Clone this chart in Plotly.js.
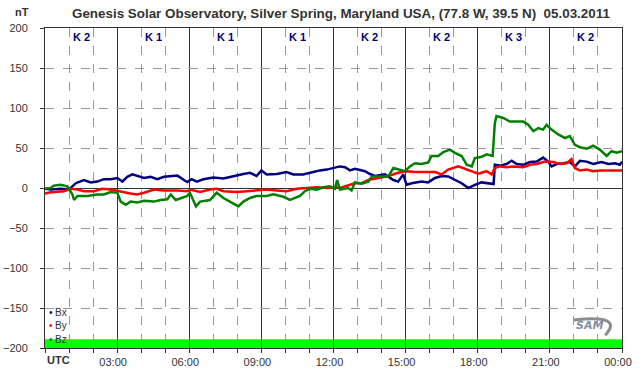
<!DOCTYPE html>
<html><head><meta charset="utf-8">
<script src="https://cdn.plot.ly/plotly-3.0.1.min.js"></script>
<style>html,body{margin:0;padding:0;background:#fff;}#chart{width:642px;height:376px;}</style>
</head><body><div id="chart"></div>
<script>
// Time in hours UTC
const bxTime = [0,0.24,0.65,0.93,1.07,1.14,1.28,1.62,1.90,2.18,2.45,2.73,3.01,3.22,3.42,3.63,3.84,4.12,4.39,4.67,4.95,5.23,5.51,5.78,5.92,6.1,6.31,6.59,7.0,7.42,7.83,8.25,8.53,8.80,9.0,9.22,9.64,10.05,10.33,10.74,11.16,11.44,11.72,11.99,12.27,12.48,12.68,12.89,13.31,13.52,13.72,14.14,14.49,14.69,14.90,15.04,15.25,15.67,15.94,16.22,16.5,16.77,17.05,17.33,17.61,17.88,18.16,18.37,18.58,18.66,18.71,18.92,19.2,19.41,19.62,19.89,20.17,20.45,20.72,20.93,21.07,21.28,21.56,21.83,22.04,22.25,22.53,22.8,23.15,23.43,23.71,23.91,24];
const bxValues = [-1,-2,-1,-2,0,2,6,10,7,8,11,11,12.5,8,14,17,15,12.5,14,11,14,15,15.5,10,7.5,11,8,11,13,12,15,17.5,19,15,22,17,17.5,20,17,17,20,22,23,25,27,26,22,24,21,17.5,15,17,10,8,17,4,6,8,7,12.5,15,14.5,10,6,0,4,7,6,5,5,29,28,30,34,30,29,32.5,33,38,33,27,30,31,32.5,27,34,33,30,32.5,30,31,29,33];

const byTime = [0,0.24,0.79,1.07,1.35,1.62,2.04,2.38,2.73,3.01,3.56,3.84,4.12,4.53,4.95,5.51,5.92,6.03,6.45,6.86,7.14,7.42,7.97,8.39,8.80,9.22,9.64,10.05,10.47,10.88,11.3,11.72,12.13,12.27,12.48,12.89,13.17,13.45,13.86,14.28,14.69,15.04,15.39,15.8,16.22,16.5,16.77,17.19,17.47,17.75,18.02,18.37,18.58,18.71,18.92,19.2,19.48,19.89,20.17,20.45,20.79,21.14,21.42,21.7,21.9,22.04,22.25,22.53,22.8,23.08,23.5,24];
const byValues = [-7,-5.4,-4,-1,-2,-4,-4,-1,-2,-4,-7,-8,-6,-2,-3,-3,-4,-2,-5,-2,-1,-4,-5,-4,-3,-2,-3,-4,-1,0,1,0,1,0,2,6,6,10,12.5,15,19,21,20,20,20,17,23,27,24,21,18,21,17,25,27,26,27,26,29,30,33,32.5,30,31,36,25,22,23,21,22,22,22];

const bzTime = [0,0.24,0.37,0.65,0.93,1.14,1.21,1.35,1.76,2.18,2.45,2.73,3.01,3.15,3.36,3.56,3.84,4.12,4.53,4.81,5.09,5.23,5.44,5.64,5.92,6.03,6.17,6.28,6.45,6.86,7.14,7.42,7.69,8.04,8.25,8.53,8.80,9.22,9.5,9.91,10.19,10.61,10.81,11.02,11.3,11.58,11.85,12.06,12.15,12.27,12.61,12.75,12.89,13.17,13.45,13.59,14.0,14.28,14.49,14.76,14.97,15.18,15.39,15.67,15.94,16.08,16.36,16.57,16.84,17.05,17.33,17.54,17.75,17.88,18.16,18.37,18.62,18.71,18.78,19.06,19.34,19.62,19.89,20.1,20.31,20.52,20.72,20.86,21.07,21.35,21.63,21.83,22.04,22.25,22.53,22.8,23.08,23.36,23.57,23.78,24];
const bzValues = [-1,0,3,4,2,-8,-15,-10,-10,-8,-8,-5,-6,-17,-21,-17,-18,-16,-17,-15,-14,-8,-15,-12.5,-10,-6,-15,-23,-17,-15,-6,-12.5,-17,-23,-17,-12.5,-10,-10,-8,-11,-15,-10,-4,-1,-2,1,2,-1,10,-2,0,-3,7,5.5,8,14.5,14.5,14.5,25,23,21,27,31,30,32,40,40,45,48,44,40,29,27,37.5,39,42,40,81,90,87.5,83,83,83,79,71,75,73,79,73,67,62.5,65,54,51,49,53,48,40,46,44,46];

const tickHours = [0,3,6,9,12,15,18,21,24];
const tickLabels = ['','03:00','06:00','09:00','12:00','15:00','18:00','21:00','00:00'];
const kHours = [1.5,4.5,7.5,10.5,13.5,16.5,19.5,22.5];
const kLabels = ['K 2','K 1','K 1','K 1','K 2','K 2','K 3','K 2'];
const seriesNames = ['Bx','By','Bz'];
const seriesColors = ['#000080','#ff0000','#008000'];

const FONT = 'Arial, "Liberation Sans", sans-serif';
const traces = [
  {x: bxTime, y: bxValues},
  {x: byTime, y: byValues},
  {x: bzTime, y: bzValues}
].map((d,i)=>({x:d.x,y:d.y,type:'scatter',mode:'lines',name:seriesNames[i],
  line:{color:seriesColors[i],width:2.5},showlegend:false,hoverinfo:'skip'}));

const annotations = [];
kHours.forEach((h,i)=>annotations.push({x:h,y:189,xref:'x',yref:'y',text:'<b>'+kLabels[i]+'</b>',
  showarrow:false,font:{family:FONT,size:11,color:'#000080'},xanchor:'center',yanchor:'middle'}));
const legY = [-155,-172,-189];
seriesNames.forEach((n,i)=>{
  annotations.push({x:0.08,y:legY[i],xref:'x',yref:'y',text:'•',showarrow:false,
    font:{family:FONT,size:10,color:seriesColors[i]},xanchor:'left',yanchor:'middle'});
  annotations.push({x:0.33,y:legY[i],xref:'x',yref:'y',text:n,showarrow:false,
    font:{family:FONT,size:10,color:'#333'},xanchor:'left',yanchor:'middle'});
});
// paper coordinates: plot area spans x 45..622 px, y 28..348 px
annotations.push({x:0,y:-12/320,xref:'paper',yref:'paper',text:'<b>UTC</b>',showarrow:false,
  font:{family:FONT,size:11,color:'#333'},xanchor:'left',yanchor:'middle'});
annotations.push({x:(341-45)/577,y:(348-13)/320,xref:'paper',yref:'paper',
  text:'<b>Genesis Solar Observatory, Silver Spring, Maryland USA, (77.8 W, 39.5 N)  05.03.2011</b>',
  showarrow:false,font:{family:FONT,size:13.4,color:'#333'},xanchor:'center',yanchor:'middle'});
annotations.push({x:(22-45)/577,y:(348-12)/320,xref:'paper',yref:'paper',text:'<b>nT</b>',
  showarrow:false,font:{family:FONT,size:11,color:'#333'},xanchor:'center',yanchor:'middle'});
annotations.push({x:22.65,y:-172,xref:'x',yref:'y',text:'<i><b>SAM</b></i>',showarrow:false,
  font:{family:'"DejaVu Sans", sans-serif',size:11,color:'#7f8fa6'},xanchor:'center',yanchor:'middle'});

const layout = {
  width:642,height:376,
  margin:{l:45,r:20,t:28,b:28},
  paper_bgcolor:'#fff',plot_bgcolor:'#fff',
  showlegend:false,
  xaxis:{range:[0,24],tickvals:tickHours,ticktext:tickLabels,showgrid:true,gridcolor:'#333',gridwidth:1,
    showline:true,linecolor:'#333',linewidth:1,mirror:true,zeroline:false,
    ticks:'outside',ticklen:4,tickcolor:'#333',ticklabelshift:-4,
    tickfont:{family:FONT,size:11,color:'#333'},
    minor:{dtick:1,tick0:0,showgrid:true,gridcolor:'#999',griddash:'dash',gridwidth:1,ticks:'outside',ticklen:4,tickcolor:'#333'}},
  yaxis:{range:[-200,200],dtick:50,tick0:0,showgrid:true,gridcolor:'#999',griddash:'dash',gridwidth:1,
    zeroline:true,zerolinecolor:'#333',zerolinewidth:1,
    showline:true,linecolor:'#333',linewidth:1,mirror:true,
    ticks:'outside',ticklen:4,tickcolor:'#333',ticklabelstandoff:10,
    tickfont:{family:FONT,size:11,color:'#333'}},
  shapes:[
    {type:'rect',xref:'x',yref:'y',x0:0,x1:24,y0:-200,y1:-189,fillcolor:'#00ff00',line:{width:0},layer:'below'},
    {type:'path',xref:'x',yref:'y',path:'M 22.0,-165 Q 24.1,-158 23.3,-184',line:{color:'#8c8c8c',width:3},layer:'above'}
  ],
  annotations:annotations
};
Plotly.newPlot('chart',traces,layout,{staticPlot:true,displayModeBar:false});
</script></body></html>
